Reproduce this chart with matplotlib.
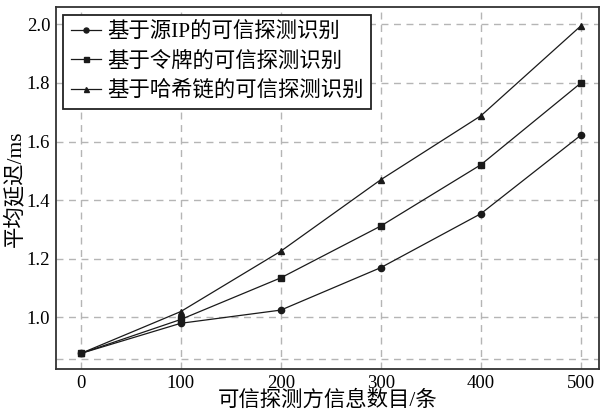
import numpy as np
import matplotlib.pyplot as plt

plt.rcParams['font.family'] = ['Liberation Serif', 'Noto Sans CJK SC']
plt.rcParams['axes.unicode_minus'] = False

# data
x_vals = [0, 100, 200, 300, 400, 500]
src_ip = [0.877, 0.980, 1.025, 1.170, 1.354, 1.622]
token = [0.877, 0.993, 1.135, 1.312, 1.521, 1.800]
hash_chain = [0.877, 1.020, 1.226, 1.470, 1.688, 1.995]
labels = ['基于源IP的可信探测识别', '基于令牌的可信探测识别', '基于哈希链的可信探测识别']

y_ticks = [0.858, 1.0, 1.2, 1.4, 1.6, 1.8, 2.0]
y_ticklabels = ['', '1.0', '1.2', '1.4', '1.6', '1.8', '2.0']

fig = plt.figure(figsize=(6.01, 4.15), dpi=100)
ax = fig.add_axes([55.7 / 601, 1 - 369.3 / 415, (599 - 55.7) / 601, (369.3 - 7.3) / 415])

ax.plot(x_vals, src_ip, '-o', color='#1a1a1a', lw=0.9, ms=4.5, label=labels[0])
ax.plot(x_vals, token, '-s', color='#1a1a1a', lw=0.9, ms=4.5, label=labels[1])
ax.plot(x_vals, hash_chain, '-^', color='#1a1a1a', lw=0.9, ms=4.5, label=labels[2])

ax.set_xlim(-25, 518)
ax.set_ylim(0.823, 2.058)
ax.set_xticks(x_vals)
ax.set_yticks(y_ticks)
ax.set_yticklabels(y_ticklabels)
ax.tick_params(length=0, labelsize=13.5, pad=4)
ax.grid(True, color='#b5b5b5', linestyle=(0, (5, 4)), lw=1.0)

for s in ax.spines.values():
    s.set_linewidth(1.3)
    s.set_color('#333333')

ax.set_xlabel('可信探测方信息数目/条', fontsize=15.4, labelpad=-1)
ax.set_ylabel('平均延迟/ms', fontsize=15.4, labelpad=1)

leg = ax.legend(loc='upper left', fontsize=15.4, frameon=True, fancybox=False,
                edgecolor='#222222', framealpha=1, borderpad=0.35, labelspacing=0.42,
                handlelength=1.4, handletextpad=0.3, borderaxespad=0.35, markerscale=0.8)
leg.get_frame().set_linewidth(1.3)

fig.savefig('out.png', dpi=100)
